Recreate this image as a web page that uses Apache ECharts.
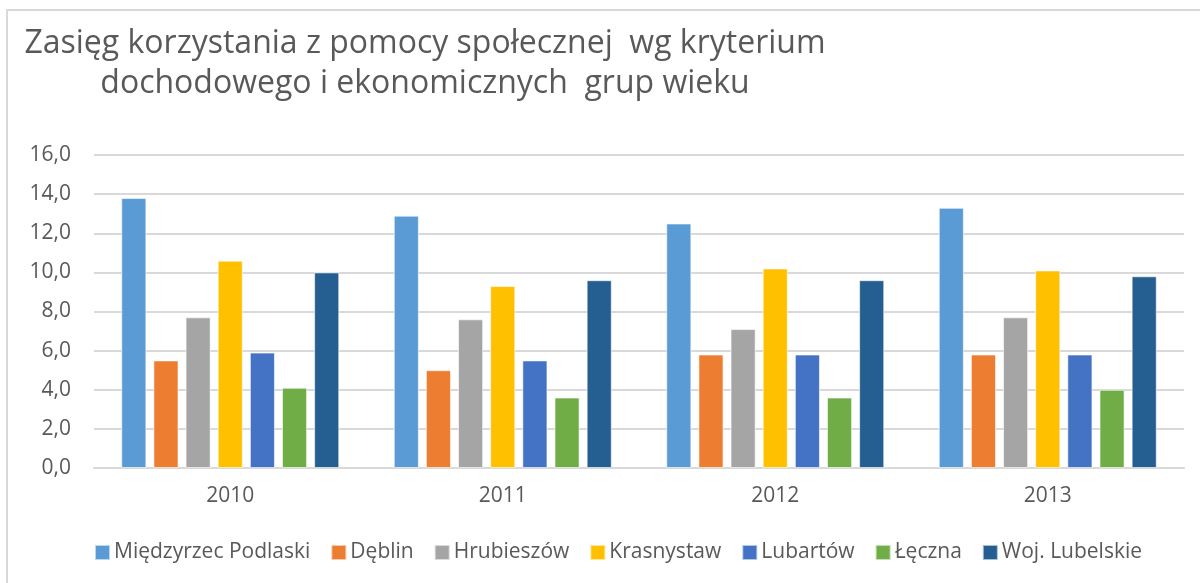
<!DOCTYPE html>
<html>
<head>
<meta charset="utf-8">
<script src="https://cdn.jsdelivr.net/npm/echarts@6/dist/echarts.min.js"></script>
<style>
  html, body { margin: 0; padding: 0; background: #fff; }
  #main { width: 1200px; height: 583px; }
</style>
</head>
<body>
<div id="main"></div>
<script>
// dane
var years = ['2010', '2011', '2012', '2013'];
var seriesNames = ['Międzyrzec Podlaski', 'Dęblin', 'Hrubieszów', 'Krasnystaw', 'Lubartów', 'Łęczna', 'Woj. Lubelskie'];
var miedzyrzec = [13.8, 12.9, 12.5, 13.3];
var deblin = [5.5, 5.0, 5.8, 5.8];
var hrubieszow = [7.7, 7.6, 7.1, 7.7];
var krasnystaw = [10.6, 9.3, 10.2, 10.1];
var lubartow = [5.9, 5.5, 5.8, 5.8];
var leczna = [4.1, 3.6, 3.6, 4.0];
var wojLubelskie = [10.0, 9.6, 9.6, 9.8];
var colors = ['#5B9BD5', '#ED7D31', '#A5A5A5', '#FFC000', '#4472C4', '#70AD47', '#255E91'];

var allValues = [miedzyrzec, deblin, hrubieszow, krasnystaw, lubartow, leczna, wojLubelskie];

var chart = echarts.init(document.getElementById('main'));

var FONT = '"Open Sans", sans-serif';

var series = seriesNames.map(function (name, i) {
  return {
    name: name,
    type: 'bar',
    data: allValues[i],
    barGap: '28%',
    barCategoryGap: '20%',
    itemStyle: {
      color: colors[i],
      borderColor: 'rgba(255,255,255,0.6)',
      borderWidth: 1
    }
  };
});

var option = {
  animation: false,
  color: colors,
  title: {
    text: 'Zasięg korzystania z pomocy społecznej  wg kryterium\ndochodowego i ekonomicznych  grup wieku',
    left: 420,
    top: 19,
    textAlign: 'center',
    textStyle: {
      fontFamily: FONT,
      fontSize: 32,
      fontWeight: 'normal',
      color: '#595959',
      lineHeight: 40
    }
  },
  graphic: [{
    type: 'rect',
    shape: { x: 7, y: 10, width: 1200, height: 600 },
    style: { fill: 'none', stroke: '#d9d9d9', lineWidth: 2 },
    silent: true
  }],
  legend: {
    data: seriesNames,
    bottom: 15,
    left: 89,
    itemWidth: 15,
    itemHeight: 15,
    itemGap: 20,
    icon: 'rect',
    textStyle: {
      fontFamily: FONT,
      fontSize: 21,
      color: '#595959',
      padding: [0, 0, 0, -1]
    }
  },
  grid: {
    left: 94,
    right: 16,
    top: 155,
    bottom: 115
  },
  xAxis: {
    type: 'category',
    data: years,
    axisLine: { lineStyle: { color: '#d9d9d9', width: 2 } },
    axisTick: { show: false },
    axisLabel: {
      fontFamily: FONT,
      fontSize: 21,
      color: '#595959',
      margin: 18
    }
  },
  yAxis: {
    type: 'value',
    min: 0,
    max: 16,
    interval: 2,
    axisLine: { show: false },
    axisTick: { show: false },
    splitLine: { lineStyle: { color: '#d9d9d9', width: 2 } },
    axisLabel: {
      fontFamily: FONT,
      fontSize: 21,
      color: '#595959',
      margin: 23,
      formatter: function (v) { return v.toFixed(1).replace('.', ','); }
    }
  },
  series: series
};

chart.setOption(option);
window.addEventListener('resize', chart.resize);
</script>
</body>
</html>
